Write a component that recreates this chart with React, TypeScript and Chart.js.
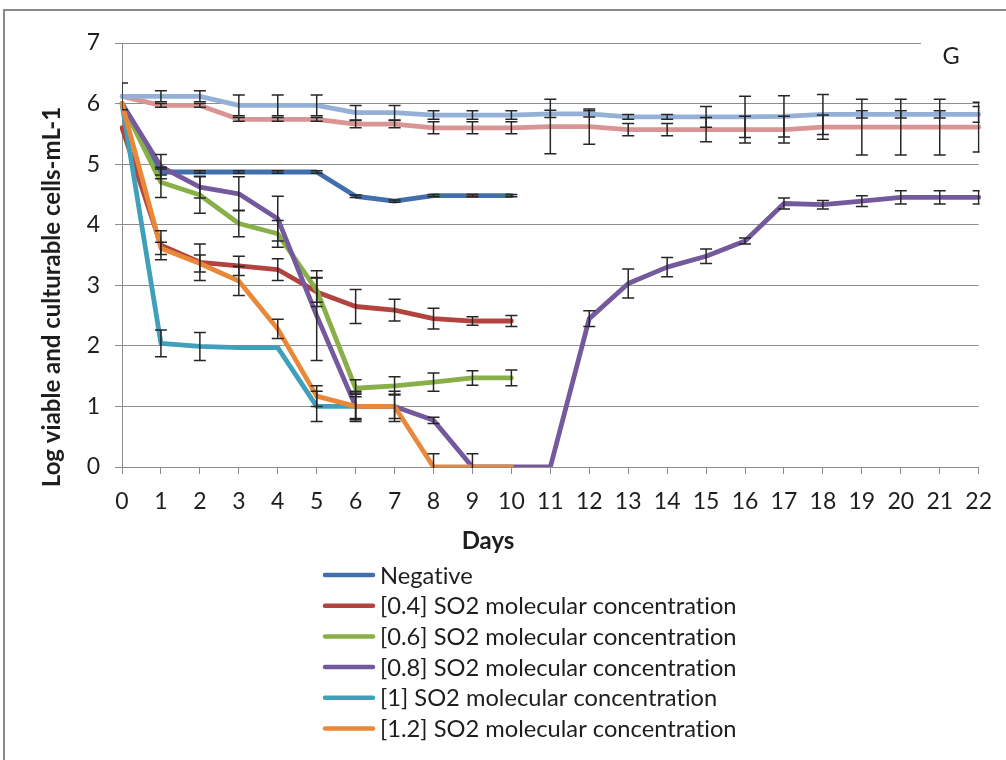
import { useEffect, useRef } from 'react';
import { Chart, registerables } from 'chart.js';

Chart.register(...registerables);

// Sampling days (x axis categories)
const days = ['0', '1', '2', '3', '4', '5', '6', '7', '8', '9', '10', '11', '12', '13', '14', '15', '16', '17', '18', '19', '20', '21', '22'];

// Log viable and culturable cells per mL, one array per treatment
const negative = [6.0, 4.87, 4.87, 4.87, 4.87, 4.87, 4.47, 4.39, 4.48, 4.48, 4.48];
const so2_04 = [5.6, 3.66, 3.38, 3.32, 3.26, 2.89, 2.65, 2.59, 2.45, 2.41, 2.41];
const so2_06 = [6.0, 4.7, 4.49, 4.02, 3.85, 2.92, 1.3, 1.34, 1.4, 1.47, 1.47];
const so2_08 = [6.0, 4.96, 4.62, 4.51, 4.1, 2.5, 1.0, 1.0, 0.77, 0, 0, 0, 2.45, 3.03, 3.3, 3.48, 3.73, 4.35, 4.33, 4.39, 4.45, 4.45, 4.45];
const so2_1 = [6.0, 2.04, 1.99, 1.97, 1.97, 1.0, 1.0];
const so2_12 = [6.0, 3.61, 3.36, 3.07, 2.28, 1.17, 1.0, 1.0, 0, 0, 0];
const controlA = [6.12, 6.12, 6.12, 5.97, 5.97, 5.97, 5.85, 5.85, 5.81, 5.81, 5.81, 5.83, 5.83, 5.78, 5.78, 5.78, 5.78, 5.79, 5.82, 5.82, 5.82, 5.82, 5.82];
const controlB = [6.12, 5.97, 5.97, 5.74, 5.74, 5.74, 5.66, 5.66, 5.6, 5.6, 5.6, 5.62, 5.62, 5.57, 5.57, 5.57, 5.57, 5.57, 5.61, 5.61, 5.61, 5.61, 5.61];

// Standard deviations (± error bars)
const negativeErr = [0, 0.05, 0.02, 0.02, 0.02, 0.02, 0.02, 0.02, 0.02, 0.02, 0.02];
const so2_04Err = [0, 0.24, 0.3, 0.16, 0.18, 0.24, 0.28, 0.18, 0.17, 0.07, 0.09];
const so2_06Err = [0, 0.25, 0.3, 0.22, 0.22, 0.2, 0.14, 0.15, 0.15, 0.12, 0.13];
const so2_08Err = [0, 0.2, 0.18, 0.28, 0.37, 0.74, 0.25, 0.25, 0.05, 0.22, 0, 0, 0.13, 0.24, 0.16, 0.12, 0.05, 0.09, 0.07, 0.09, 0.11, 0.11, 0.11];
const so2_1Err = [0, 0.22, 0.23, 0, 0, 0.25, 0.22];
const so2_12Err = [0, 0.1, 0.14, 0.24, 0.16, 0.17, 0.2, 0.2, 0.22, 0, 0];
const controlAErr = [0.22, 0.09, 0.09, 0.17, 0.17, 0.17, 0.12, 0.12, 0.07, 0.07, 0.07, 0.06, 0.05, 0.04, 0.04, 0.17, 0.34, 0.34, 0.33, 0.06, 0.06, 0.06, 0.13];
const controlBErr = [0, 0.03, 0.03, 0.03, 0.03, 0.03, 0.06, 0.06, 0.1, 0.1, 0.1, 0.45, 0.29, 0.1, 0.1, 0.2, 0.22, 0.22, 0.2, 0.46, 0.46, 0.46, 0.41];

const yTicks = [0, 1, 2, 3, 4, 5, 6, 7];

const xTitle = 'Days';
const yTitle = 'Log viable and culturable cells-mL-1';
const panelLetter = 'G';

const FONT = 'Lato';
const TEXT = '#1e1e1e';
const GRID = '#8e8e8e';

type Series = { label: string; data: number[]; errors: number[]; color: string };

const series: Series[] = [
  { label: 'Negative', data: negative, errors: negativeErr, color: '#416FAB' },
  { label: '[0.4] SO2 molecular concentration', data: so2_04, errors: so2_04Err, color: '#B2433F' },
  { label: '[0.6] SO2 molecular concentration', data: so2_06, errors: so2_06Err, color: '#89AF48' },
  { label: '[0.8] SO2 molecular concentration', data: so2_08, errors: so2_08Err, color: '#745A9C' },
  { label: '[1] SO2 molecular concentration', data: so2_1, errors: so2_1Err, color: '#40A0BA' },
  { label: '[1.2] SO2 molecular concentration', data: so2_12, errors: so2_12Err, color: '#EA883A' },
  { label: '', data: controlB, errors: controlBErr, color: '#D99594' },
  { label: '', data: controlA, errors: controlAErr, color: '#95B0D7' },
];

// White page, grey outer frame
const framePlugin = {
  id: 'frame',
  beforeDraw(chart: any) {
    const { ctx, width, height } = chart;
    ctx.save();
    ctx.fillStyle = '#ffffff';
    ctx.fillRect(0, 0, width, height);
    ctx.strokeStyle = '#8a8a8a';
    ctx.lineWidth = 2;
    ctx.strokeRect(4, 10, width + 20, height + 20);
    ctx.restore();
  },
};

// Vertical ± error bars with caps, clipped to the plot area
const errorBarPlugin = {
  id: 'errorBars',
  afterDatasetsDraw(chart: any) {
    const { ctx, chartArea } = chart;
    const yScale = chart.scales.y;
    ctx.save();
    ctx.beginPath();
    ctx.rect(chartArea.left, chartArea.top - 2, chartArea.right - chartArea.left + 1, chartArea.bottom - chartArea.top + 3);
    ctx.clip();
    ctx.strokeStyle = '#262626';
    ctx.lineWidth = 1.5;
    const cap = 6;
    chart.data.datasets.forEach((ds: any, i: number) => {
      const errs: number[] = ds.errors;
      if (!errs) return;
      const meta = chart.getDatasetMeta(i);
      meta.data.forEach((pt: any, j: number) => {
        const e = errs[j];
        if (!e) return;
        const v = ds.data[j];
        const x = pt.x;
        const yt = yScale.getPixelForValue(v + e);
        const yb = yScale.getPixelForValue(v - e);
        ctx.beginPath();
        ctx.moveTo(x, yt);
        ctx.lineTo(x, yb);
        ctx.moveTo(x - cap, yt);
        ctx.lineTo(x + cap, yt);
        ctx.moveTo(x - cap, yb);
        ctx.lineTo(x + cap, yb);
        ctx.stroke();
      });
    });
    ctx.restore();
  },
};

// Axis titles, stacked legend below the plot, and the panel letter
const annotationPlugin = {
  id: 'annotations',
  afterDraw(chart: any) {
    const { ctx } = chart;
    ctx.save();
    try {
      (ctx as any).textRendering = 'optimizeSpeed';
    } catch (e) {
      /* older canvas */
    }

    // panel letter box hides the end of the top gridline
    ctx.fillStyle = '#ffffff';
    ctx.fillRect(921, 36, 70, 12);
    ctx.fillStyle = TEXT;
    ctx.font = `23.5px ${FONT}`;
    ctx.textAlign = 'center';
    ctx.textBaseline = 'middle';
    ctx.fillText(panelLetter, 951, 56);

    // axis titles
    ctx.font = `bold 24px ${FONT}`;
    ctx.fillText(xTitle, 488, 541);
    ctx.save();
    ctx.translate(52, 297);
    ctx.rotate(-Math.PI / 2);
    ctx.fillText(yTitle, 0, 0);
    ctx.restore();

    // legend
    const x0 = 323;
    const x1 = 375;
    const tx = 380;
    let y = 575;
    ctx.textAlign = 'left';
    ctx.font = `23.7px ${FONT}`;
    chart.data.datasets.forEach((ds: any) => {
      if (!ds.label) return;
      ctx.strokeStyle = ds.borderColor;
      ctx.lineWidth = 4.5;
      ctx.lineCap = 'round';
      ctx.beginPath();
      ctx.moveTo(x0 + 2, y);
      ctx.lineTo(x1 - 2, y);
      ctx.stroke();
      ctx.fillStyle = TEXT;
      ctx.fillText(ds.label, tx, y + 1);
      y += 30.7;
    });
    ctx.restore();
  },
};

export default function App() {
  const ref = useRef<HTMLCanvasElement>(null);

  useEffect(() => {
    let chart: Chart | null = null;
    let cancelled = false;
    const build = () => {
      if (cancelled || !ref.current) return;
      chart = new Chart(ref.current, {
        type: 'line',
        data: {
          labels: days,
          datasets: series.map((s, i) => ({
            label: s.label,
            data: s.data,
            errors: s.errors,
            borderColor: s.color,
            backgroundColor: s.color,
            borderWidth: 4.8,
            borderJoinStyle: 'round',
            borderCapStyle: 'round',
            pointRadius: 0,
            pointHoverRadius: 0,
            tension: 0,
            fill: false,
            order: -i,
          })) as any,
        },
        options: {
          responsive: false,
          animation: false,
          devicePixelRatio: 1,
          layout: { padding: { top: 43, right: 21, left: 0, bottom: 0 } },
          plugins: {
            legend: { display: false },
            tooltip: { enabled: false },
            title: { display: false },
          },
          scales: {
            x: {
              type: 'category',
              offset: false,
              grid: { drawOnChartArea: false, drawTicks: true, tickLength: 7, color: GRID, offset: false },
              border: { display: true, color: GRID, width: 1 },
              ticks: { color: TEXT, font: { family: FONT, size: 23 }, padding: 14, autoSkip: false, maxRotation: 0 },
              afterFit: (s: any) => {
                s.height = 760 - 467;
              },
            },
            y: {
              type: 'linear',
              min: 0,
              max: 7,
              afterBuildTicks: (s: any) => {
                s.ticks = yTicks.map((v) => ({ value: v }));
              },
              grid: { color: GRID, lineWidth: 1, tickLength: 7, drawTicks: true },
              border: { display: true, color: GRID, width: 1 },
              ticks: { color: TEXT, font: { family: FONT, size: 23 }, padding: 15 },
              afterFit: (s: any) => {
                s.width = 122;
              },
            },
          },
        } as any,
        plugins: [framePlugin, errorBarPlugin, annotationPlugin],
      });
    };
    const fontsReady = (document as any).fonts
      ? Promise.all([
          (document as any).fonts.load(`23px ${FONT}`),
          (document as any).fonts.load(`bold 24px ${FONT}`),
        ]).catch(() => undefined)
      : Promise.resolve();
    fontsReady.then(build);
    return () => {
      cancelled = true;
      if (chart) chart.destroy();
    };
  }, []);

  return (
    <div style={{ position: 'absolute', left: 0, top: 0, width: 1006, height: 760 }}>
      <canvas ref={ref} width={1006} height={760} style={{ display: 'block' }} />
    </div>
  );
}
